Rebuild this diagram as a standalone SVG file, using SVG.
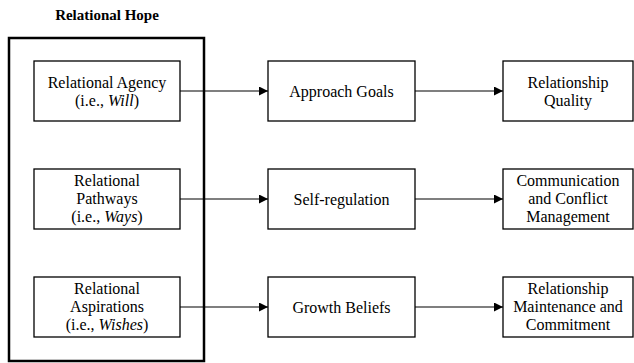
<svg xmlns="http://www.w3.org/2000/svg" width="634" height="363" viewBox="0 0 634 363">
<defs>
<style>
text{font-family:"Times New Roman","Liberation Serif","DejaVu Serif",serif;font-size:16px;fill:#000;text-anchor:middle}
.title{font-weight:bold;font-size:15px}
.box{fill:#fff;stroke:#000;stroke-width:1.3}
.outer{fill:none;stroke:#000;stroke-width:2.5}
.conn{stroke:#000;stroke-width:1.2;fill:none;marker-end:url(#arr)}
</style>
<marker id="arr" viewBox="0 0 10 10" refX="10" refY="5" markerWidth="9" markerHeight="9" markerUnits="userSpaceOnUse" orient="auto">
<path d="M0,0 L10,5 L0,10 z" fill="#000"/>
</marker>
</defs>
<rect width="634" height="363" fill="#fff"/>
<g id="group-hope">
<text class="title" x="107" y="20">Relational Hope</text>
<rect class="outer" x="9" y="38" width="195" height="323"/>
</g>
<g id="connectors">
<line class="conn" x1="180" y1="91" x2="268" y2="91"/>
<line class="conn" x1="180" y1="199" x2="268" y2="199"/>
<line class="conn" x1="180" y1="307" x2="268" y2="307"/>
<line class="conn" x1="415" y1="91" x2="503" y2="91"/>
<line class="conn" x1="415" y1="199" x2="503" y2="199"/>
<line class="conn" x1="415" y1="307" x2="503" y2="307"/>
</g>
<g id="agency">
<rect class="box" x="34" y="61" width="146" height="60"/>
<text x="107" y="88">Relational Agency</text>
<text x="107" y="106">(i.e., <tspan font-style="italic">Will</tspan>)</text>
</g>
<g id="pathways">
<rect class="box" x="34" y="169" width="146" height="60"/>
<text x="107" y="186">Relational</text>
<text x="107" y="204">Pathways</text>
<text x="107" y="222">(i.e., <tspan font-style="italic">Ways</tspan>)</text>
</g>
<g id="aspirations">
<rect class="box" x="34" y="277" width="146" height="60"/>
<text x="107" y="294">Relational</text>
<text x="107" y="312">Aspirations</text>
<text x="107" y="330">(i.e., <tspan font-style="italic">Wishes</tspan>)</text>
</g>
<g id="approach">
<rect class="box" x="268" y="61" width="147" height="60"/>
<text x="341.5" y="97">Approach Goals</text>
</g>
<g id="selfreg">
<rect class="box" x="268" y="169" width="147" height="60"/>
<text x="341.5" y="205">Self-regulation</text>
</g>
<g id="growth">
<rect class="box" x="268" y="277" width="147" height="60"/>
<text x="341.5" y="313">Growth Beliefs</text>
</g>
<g id="quality">
<rect class="box" x="503" y="61" width="130" height="60"/>
<text x="568" y="88">Relationship</text>
<text x="568" y="106">Quality</text>
</g>
<g id="communication">
<rect class="box" x="503" y="169" width="130" height="60"/>
<text x="568" y="186">Communication</text>
<text x="568" y="204">and Conflict</text>
<text x="568" y="222">Management</text>
</g>
<g id="maintenance">
<rect class="box" x="503" y="277" width="130" height="60"/>
<text x="568" y="294">Relationship</text>
<text x="568" y="312">Maintenance and</text>
<text x="568" y="330">Commitment</text>
</g>
</svg>
